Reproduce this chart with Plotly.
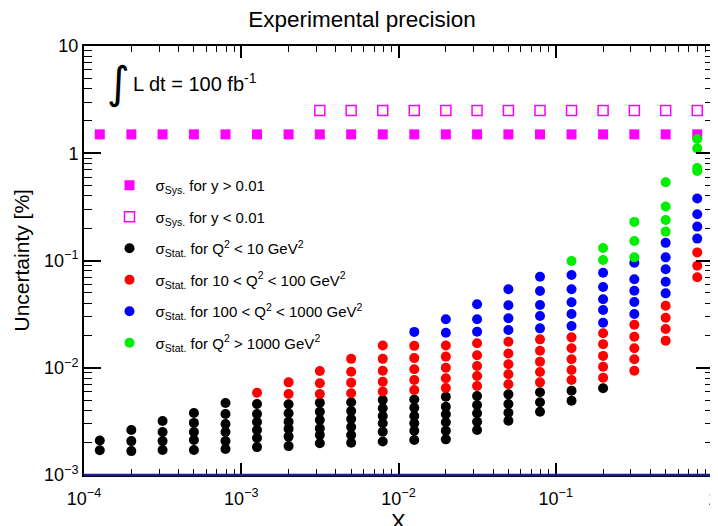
import plotly.graph_objects as go

# x bins (Bjorken x) of the measurement grid
X_BINS = [1.26e-4, 2.0e-4, 3.16e-4, 5.0e-4, 7.94e-4, 1.26e-3, 2.0e-3, 3.16e-3,
          5.0e-3, 7.94e-3, 1.26e-2, 2.0e-2, 3.16e-2, 5.0e-2, 7.94e-2, 0.126,
          0.2, 0.316, 0.5, 0.794]

# systematic uncertainty [%]
SYS_HIGH_X = X_BINS
SYS_HIGH_Y = [1.5, 1.5, 1.5, 1.5, 1.5, 1.5, 1.5, 1.5, 1.5, 1.5,
              1.5, 1.5, 1.5, 1.5, 1.5, 1.5, 1.5, 1.5, 1.5, 1.5]
SYS_LOW_X = X_BINS[7:]
SYS_LOW_Y = [2.5, 2.5, 2.5, 2.5, 2.5, 2.5, 2.5, 2.5, 2.5, 2.5, 2.5, 2.5, 2.5]

# statistical uncertainty [%] per x bin (one list per bin, aligned with X_BINS)
STAT_Q2_LT10 = [
    [0.0021, 0.0017],
    [0.00263, 0.00207, 0.00167],
    [0.00319, 0.00252, 0.00207, 0.00171],
    [0.00379, 0.00306, 0.00252, 0.00212, 0.00171],
    [0.00469, 0.00371, 0.00299, 0.00252, 0.00207, 0.00175],
    [0.00459, 0.00371, 0.00312, 0.00263, 0.00221, 0.00182],
    [0.00456, 0.00376, 0.00314, 0.00269, 0.00228, 0.00186],
    [0.00472, 0.00389, 0.00326, 0.00272, 0.00236, 0.00198],
    [0.00476, 0.00395, 0.00333, 0.00280, 0.00236, 0.00200],
    [0.00500, 0.00419, 0.00355, 0.00304, 0.00253, 0.00205],
    [0.00506, 0.00424, 0.00355, 0.00304, 0.00259, 0.00212],
    [0.00537, 0.00433, 0.00368, 0.00310, 0.00259, 0.00215],
    [0.00545, 0.00450, 0.00376, 0.00314, 0.00263],
    [0.00565, 0.00459, 0.00381, 0.00321],
    [0.00590, 0.00476, 0.00389],
    [0.00611, 0.00493],
    [0.00643],
    [], [], [],
]
STAT_Q2_10_100 = [
    [], [], [], [], [],
    [0.00585],
    [0.00731, 0.00569],
    [0.00933, 0.00716, 0.00569],
    [0.0121, 0.00919, 0.00726, 0.00578],
    [0.0161, 0.0121, 0.00938, 0.00741, 0.00601],
    [0.0160, 0.0123, 0.00967, 0.00770, 0.00621],
    [0.0161, 0.0127, 0.0100, 0.00797, 0.00647],
    [0.0169, 0.0131, 0.0104, 0.00838, 0.00676],
    [0.0175, 0.0136, 0.0108, 0.00869, 0.00701],
    [0.0184, 0.0144, 0.0114, 0.00912, 0.00731],
    [0.0192, 0.0152, 0.0120, 0.00953, 0.00770],
    [0.0210, 0.0166, 0.0129, 0.0102, 0.00807],
    [0.0252, 0.0195, 0.0152, 0.0120, 0.00938],
    [0.0379, 0.0293, 0.0230, 0.0179],
    [0.119, 0.0895, 0.0697],
]
STAT_Q2_100_1000 = [
    [], [], [], [], [], [], [], [], [], [],
    [0.0216],
    [0.0283, 0.0212],
    [0.0391, 0.0283, 0.0217],
    [0.0539, 0.0382, 0.0289, 0.0225],
    [0.0706, 0.0520, 0.0385, 0.0304, 0.0233],
    [0.0733, 0.0539, 0.0408, 0.0317, 0.0245],
    [0.0769, 0.0566, 0.0435, 0.0345, 0.0263],
    [0.0953, 0.0668, 0.0523, 0.0410, 0.0317],
    [0.146, 0.107, 0.0828, 0.0634, 0.0494],
    [0.379, 0.270, 0.207, 0.160],
]
STAT_Q2_GT1000 = [
    [], [], [], [], [], [], [], [], [], [], [], [], [], [], [],
    [0.0989],
    [0.131, 0.101],
    [0.229, 0.152, 0.107],
    [0.536, 0.319, 0.239, 0.186],
    [1.36, 1.11, 0.728, 0.683],
]

X_TICKS = [1e-4, 1e-3, 1e-2, 1e-1, 1]
X_TICKTEXT = ["10<sup>\u22124</sup>", "10<sup>\u22123</sup>", "10<sup>\u22122</sup>",
              "10<sup>\u22121</sup>", "1"]
Y_TICKS = [1e-3, 1e-2, 1e-1, 1, 10]
Y_TICKTEXT = ["10<sup>\u22123</sup>", "10<sup>\u22122</sup>", "10<sup>\u22121</sup>",
              "1", "10"]


def flatten(cols):
    xs, ys = [], []
    for xb, vals in zip(X_BINS, cols):
        for v in vals:
            xs.append(xb)
            ys.append(v)
    return xs, ys


FONT = "Liberation Sans, Arial, sans-serif"
fig = go.Figure()

fig.add_trace(go.Scatter(
    x=SYS_HIGH_X, y=SYS_HIGH_Y, mode="markers", legendgroup="a",
    name="\u03c3<sub>Sys.</sub> for y &gt; 0.01",
    marker=dict(symbol="square", size=10, color="#ff00ff")))
fig.add_trace(go.Scatter(
    x=SYS_LOW_X, y=SYS_LOW_Y, mode="markers", legendgroup="b",
    name="\u03c3<sub>Sys.</sub> for y &lt; 0.01",
    marker=dict(symbol="square-open", size=10, color="#ff00ff",
                line=dict(width=1.5, color="#ff00ff"))))

series = [
    (STAT_Q2_LT10, "black", "\u03c3<sub>Stat.</sub> for Q<sup>2</sup> &lt; 10 GeV<sup>2</sup>"),
    (STAT_Q2_10_100, "#ff0000", "\u03c3<sub>Stat.</sub> for 10 &lt; Q<sup>2</sup> &lt; 100 GeV<sup>2</sup>"),
    (STAT_Q2_100_1000, "#0000ff", "\u03c3<sub>Stat.</sub> for 100 &lt; Q<sup>2</sup> &lt; 1000 GeV<sup>2</sup>"),
    (STAT_Q2_GT1000, "#00ee00", "\u03c3<sub>Stat.</sub> for Q<sup>2</sup> &gt; 1000 GeV<sup>2</sup>"),
]
for i, (cols, color, name) in enumerate(series):
    xs, ys = flatten(cols)
    fig.add_trace(go.Scatter(
        x=xs, y=ys, mode="markers", name=name, legendgroup="s%d" % i,
        marker=dict(symbol="circle", size=10, color=color, line=dict(width=0))))

minor_x = [m * 10.0 ** e for e in range(-4, 0) for m in range(2, 10)]
minor_y = [m * 10.0 ** e for e in range(-3, 1) for m in range(2, 10)]

fig.update_xaxes(
    type="log", range=[-4, 0], showgrid=False, zeroline=False, automargin=False,
    showline=True, linecolor="black", linewidth=2, mirror="allticks",
    ticks="inside", ticklen=12, tickwidth=1.5, tickcolor="black",
    tickvals=X_TICKS, ticktext=X_TICKTEXT, ticklabelstandoff=6,
    ticklabeloverflow="allow",
    tickfont=dict(family=FONT, size=18, color="black"),
    minor=dict(ticks="inside", ticklen=6, tickwidth=1.2, tickcolor="black",
               tickvals=minor_x, showgrid=False))
fig.update_yaxes(
    type="log", range=[-3, 1], showgrid=False, zeroline=False, automargin=False,
    showline=True, linecolor="black", linewidth=2, mirror="allticks",
    ticks="inside", ticklen=17, tickwidth=1.5, tickcolor="black",
    tickvals=Y_TICKS, ticktext=Y_TICKTEXT, ticklabeloverflow="allow",
    tickfont=dict(family=FONT, size=18, color="black"),
    minor=dict(ticks="inside", ticklen=8, tickwidth=1.2, tickcolor="black",
               tickvals=minor_y, showgrid=False))

fig.add_shape(type="line", xref="paper", yref="paper", x0=0, x1=1, y0=0, y1=0,
              line=dict(color="#1c1c8a", width=2.5))

fig.add_annotation(xref="paper", yref="paper", x=0, y=0.5, xshift=-63, yshift=0,
                   xanchor="center", yanchor="middle",
                   text="Uncertainty [%]", textangle=-90, showarrow=False,
                   font=dict(family=FONT, size=21, color="black"))
fig.add_annotation(xref="paper", yref="paper", x=0.5, y=0, yshift=-46,
                   text="X", showarrow=False, yanchor="middle",
                   font=dict(family=FONT, size=22, color="black"))
fig.add_annotation(xref="paper", yref="paper", x=(118 - 84) / 629, y=(475 - 82) / 429,
                   text="\u222b", showarrow=False, xanchor="center", yanchor="middle",
                   font=dict(family="DejaVu Sans", size=44, color="black"))
fig.add_annotation(xref="paper", yref="paper", x=(131 - 84) / 629, y=(475 - 83) / 429,
                   text="L dt = 100 fb<sup>-1</sup>", showarrow=False,
                   xanchor="left", yanchor="middle",
                   font=dict(family=FONT, size=20, color="black"))

# the page body adds an 8px offset; the figure is sized so the plot area
# lands at the reference position in the 718x526 window
fig.update_layout(
    width=710, height=518,
    margin=dict(l=76, r=5, t=38, b=51, autoexpand=False),
    paper_bgcolor="white", plot_bgcolor="white",
    title=dict(text="Experimental precision", x=354 / 710, xanchor="center",
               y=1 - 11 / 518, yanchor="middle", yref="container",
               font=dict(family=FONT, size=22.5, color="black")),
    legend=dict(x=0.031, y=(475 - 169) / 429, xanchor="left", yanchor="top",
                bgcolor="rgba(0,0,0,0)", borderwidth=0, tracegroupgap=9,
                itemwidth=42,
                font=dict(family=FONT, size=15, color="black")),
    showlegend=True,
)

fig.write_html("out.html")
